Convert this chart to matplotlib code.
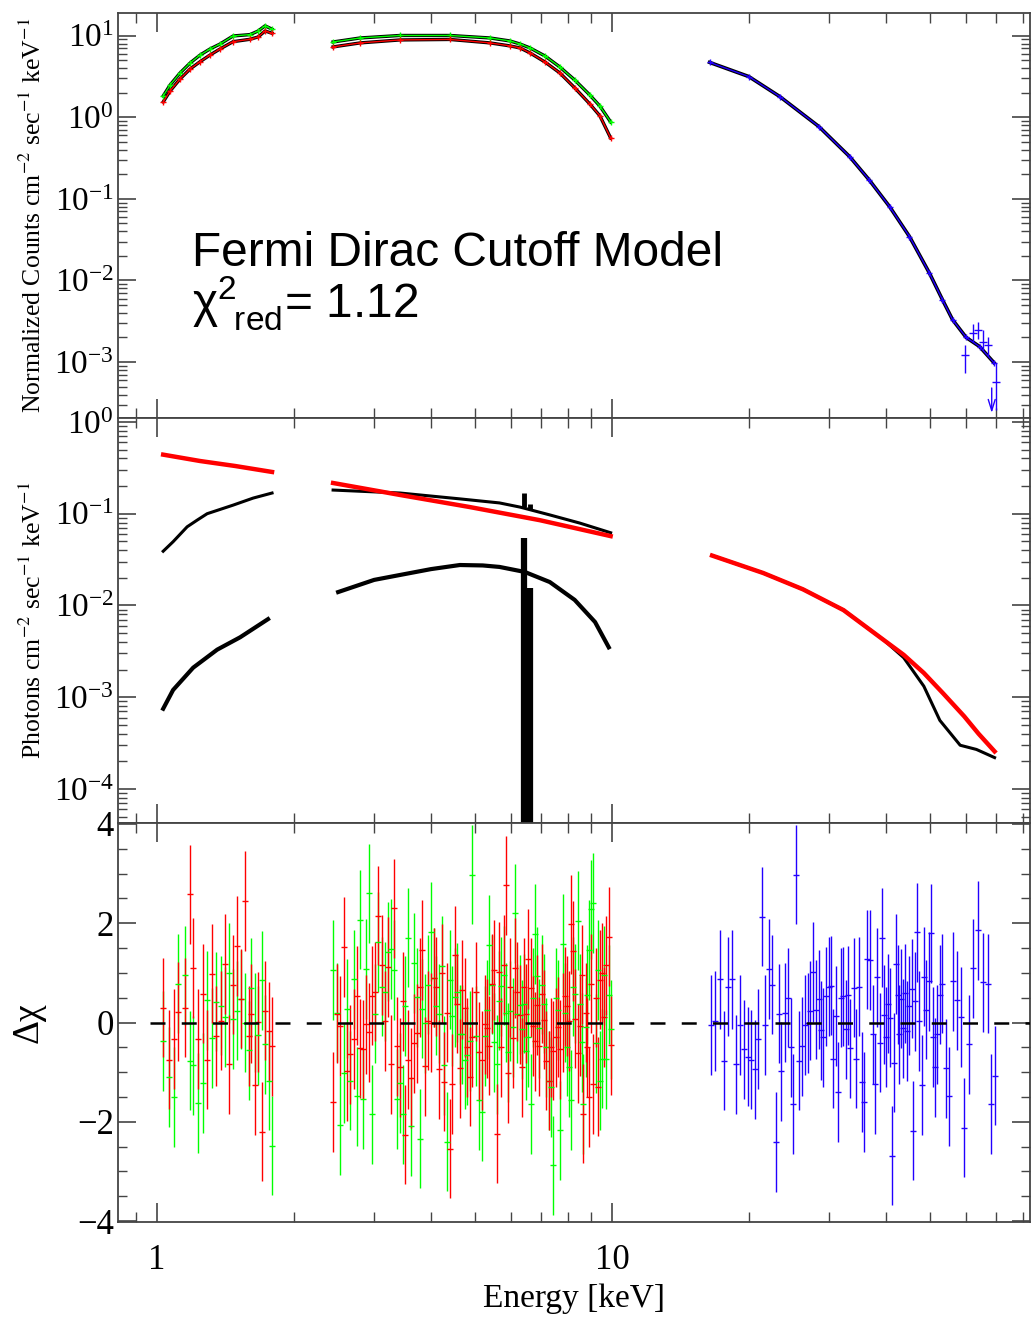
import numpy as np
import matplotlib.pyplot as plt
from matplotlib.ticker import LogLocator, NullFormatter, MultipleLocator, FixedLocator, FixedFormatter

plt.rcParams['font.family'] = ['Liberation Serif', 'DejaVu Serif']
plt.rcParams['mathtext.fontset'] = 'stix'

RED = '#ff0000'
GREEN = '#00ff00'
BLUE = '#2200ff'

# ------------------------------------------------------------------
# Top panel: normalized counts (data + folded model)
# ------------------------------------------------------------------
cts1_e = [1.031, 1.068, 1.123, 1.182, 1.243, 1.307, 1.375, 1.469, 1.601, 1.667, 1.727, 1.789]
cts1_green = [1.82, 2.49, 3.49, 4.63, 5.79, 6.87, 7.90, 9.91, 10.3, 11.4, 13.2, 12.0]
cts1_red = [1.54, 2.10, 2.95, 3.91, 4.80, 5.79, 6.87, 8.44, 9.03, 9.64, 11.4, 10.7]

cts2_e = [2.437, 2.797, 3.420, 4.403, 5.390, 5.966, 6.278, 6.604, 7.122, 7.681, 8.283, 8.934, 9.408, 9.934]
cts2_green = [8.37, 9.37, 10.05, 10.05, 9.37, 8.61, 7.9, 7.07, 5.64, 4.13, 2.86, 1.88, 1.37, 0.875]
cts2_red = [7.28, 8.15, 8.86, 8.98, 8.15, 7.49, 7.07, 6.14, 4.76, 3.49, 2.29, 1.46, 1.04, 0.557]

cts3_e = [16.4, 20.0, 23.4, 28.5, 33.3, 36.8, 40.8, 45.1, 49.9, 53.3, 56.1, 60.1, 64.3, 69.2]
cts3_blue = [4.7, 3.15, 1.79, 0.77, 0.33, 0.17, 0.080, 0.0345, 0.0123, 5.8e-3, 3.3e-3, 2.0e-3, 1.55e-3, 9.8e-4]

# scattered high-energy blue points (value, lower, upper)
hi_e = [59.7, 62.1, 63.7, 65.4, 67.1, 69.8]
hi_val = [1.22e-3, 2.3e-3, 2.47e-3, 1.78e-3, 1.62e-3, 5.7e-4]
hi_lo = [7.4e-4, 1.75e-3, 1.9e-3, 1.4e-3, 1.17e-3, 2.6e-4]
hi_up = [1.63e-3, 2.9e-3, 3.1e-3, 2.5e-3, 2.0e-3, 9.8e-4]
ul_e = 68.4
ul_val = 5.2e-4

# ------------------------------------------------------------------
# Middle panel: unfolded model components
# ------------------------------------------------------------------
pl1_e = [1.031, 1.243, 1.484, 1.789]
pl1 = [0.44, 0.375, 0.331, 0.285]
pl2_e = [2.437, 3.420, 4.875, 6.94, 9.934]
pl2 = [0.216, 0.160, 0.118, 0.085, 0.057]
pl3_e = [16.6, 21.5, 26.3, 32.3, 39.6, 43.8, 48.5, 53.5, 59.5, 64.0, 69.4]
pl3 = [0.035, 0.0226, 0.0150, 8.9e-3, 4.2e-3, 2.9e-3, 1.84e-3, 1.1e-3, 6.2e-4, 4.0e-4, 2.57e-4]

tot1_e = [1.031, 1.084, 1.164, 1.224, 1.288, 1.469, 1.626, 1.789]
tot1 = [0.039, 0.0495, 0.072, 0.085, 0.10, 0.124, 0.148, 0.168]
tot2_e = [2.437, 3.420, 4.634, 5.66, 6.28, 7.30, 8.50, 9.934]
tot2 = [0.181, 0.168, 0.145, 0.131, 0.118, 0.097, 0.079, 0.062]
tot3_e = [16.6, 21.5, 26.3, 32.3, 39.6, 43.8, 48.5, 52.6, 58.3, 63.3, 69.4]
tot3 = [0.035, 0.0226, 0.0150, 8.9e-3, 4.2e-3, 2.7e-3, 1.32e-3, 5.6e-4, 3.0e-4, 2.7e-4, 2.2e-4]

bb1_e = [1.031, 1.084, 1.200, 1.355, 1.522, 1.753]
bb1 = [7.5e-4, 1.2e-3, 2.1e-3, 3.3e-3, 4.5e-3, 7.1e-3]
bb2_e = [2.50, 3.00, 3.42, 4.00, 4.63, 5.20, 5.66, 6.43, 7.30, 8.28, 9.18, 9.84]
bb2 = [0.0140, 0.0190, 0.0215, 0.0249, 0.0276, 0.0273, 0.0263, 0.0232, 0.018, 0.0115, 6.6e-3, 3.5e-3]

line_e = [6.40, 6.60]
line_top = [0.0548, 0.0156]
tot_line_top = [0.169, 0.126]
tot_line_base = [0.118, 0.112]

# ------------------------------------------------------------------
# Bottom panel: residuals (delta chi, errors are 1 sigma by construction)
# ------------------------------------------------------------------
res1_e = [1.03, 1.06, 1.09, 1.11, 1.15, 1.18, 1.20, 1.23, 1.26, 1.29, 1.32, 1.35, 1.38, 1.41,
          1.44, 1.47, 1.50, 1.53, 1.56, 1.59, 1.61, 1.64, 1.67, 1.70, 1.73, 1.76, 1.79]
res1_red = [0.30, -0.75, -0.33, 0.22, 0.30, 2.58, 1.10, -0.33, 0.58, -0.75, 0.98, -0.27, 0.04, 1.18,
            -0.84, 0.76, 1.54, 0.48, 2.45, -0.27, 0.18, -1.26, 0.01, -2.20, 0.24, -0.18, -0.48]
res1_green = [-0.37, -1.10, -1.50, 0.78, 0.95, -0.77, -0.86, -1.62, -1.22, 0.45, -0.31, 0.42, 0.34, 0.11,
              1.00, 0.07, 0.24, 0.47, 0.00, -0.56, 0.70, 0.00, -0.26, 0.85, -0.44, -1.17, -2.48]

res2_e = [2.441, 2.491, 2.525, 2.573, 2.615, 2.659, 2.706, 2.751, 2.789, 2.836,
          2.884, 2.924, 2.964, 3.014, 3.064, 3.117, 3.170, 3.214, 3.267, 3.322,
          3.373, 3.420, 3.467, 3.513, 3.567, 3.616, 3.671, 3.722, 3.778, 3.828,
          3.887, 3.940, 3.994, 4.055, 4.109, 4.171, 4.222, 4.272, 4.338, 4.397,
          4.457, 4.518, 4.571, 4.634, 4.681, 4.746, 4.809, 4.875, 4.932,
          5.024, 5.109, 5.188, 5.251, 5.320, 5.374, 5.448, 5.503, 5.579, 5.643,
          5.709, 5.781, 5.848, 5.917, 5.977, 6.050, 6.120, 6.193, 6.268, 6.331,
          6.406, 6.481, 6.547, 6.626, 6.705, 6.783, 6.852, 6.922, 7.006, 7.088,
          7.172, 7.260, 7.344, 7.430, 7.521, 7.608, 7.698, 7.791, 7.883, 7.951,
          8.045, 8.127, 8.209, 8.306, 8.406, 8.492, 8.592, 8.648, 8.753, 8.824,
          8.901, 8.990, 9.096, 9.208, 9.316, 9.426, 9.521, 9.618, 9.716, 9.834, 9.934]
res2_red = [-1.60, 0.18, -0.07, 1.52, -0.98, -0.64, -0.33, 0.54, -0.52, -0.54,
            -0.04, -0.20, 0.54, 0.62, 2.15, 1.16, 0.03, 1.12, -0.84, 2.30,
            -0.48, -0.90, 0.43, -2.26, -0.75, -1.12, -0.42, -0.22, 0.71, 1.46,
            -0.88, 0.04, 0.00, 0.90, 0.72, -0.94, 0.99, -1.19, 0.20, -2.54,
            -1.24, 1.35, 0.38, -0.92, 0.66, 0.30, -0.50, -1.09, -0.29,
            0.62, -0.59, -0.76, -0.04, -0.12, -0.47, 0.78, 1.06, -2.24, 1.02,
            -0.50, 1.16, 2.76, -1.02, 0.71, -0.32, 1.10, 0.62, 0.16, -0.90,
            0.71, 0.18, 1.28, 0.70, -0.07, -0.38, 0.35, -0.48, 0.58, 0.06,
            -0.77, -1.17, -0.50, -0.57, -0.30, -0.09, -0.54, 0.00, 0.53, 0.33,
            0.03, 1.98, 1.44, 0.08, -0.62, -0.07, 0.96, -1.84, 0.20, -0.50,
            -1.50, 0.78, -1.24, 0.50, -1.29, 0.86, 1.00, 0.11, 1.15, 1.73, -0.46]
res2_green = [1.06, 0.20, -2.07, -1.02, 0.28, -1.17, 0.87, -1.49, 2.07, -1.54,
              1.08, 2.60, -1.85, 0.18, 1.62, 0.72, 0.62, 1.43, 1.48, 1.06,
              -1.54, -1.22, -1.85, 0.33, 1.71, -2.09, 1.20, 0.51, -2.34, 0.28,
              -0.02, 0.76, 1.83, 0.90, 0.34, 0.18, 1.14, -0.86, -2.40, 0.86,
              0.13, 0.51, 0.61, -0.24, -0.24, -0.75, -0.66, -0.37, 2.98,
              -0.27, -1.56, -1.80, -0.27, 0.26, 1.56, 0.76, -0.40, -0.84, 0.44,
              0.73, 0.95, 0.20, -0.60, 0.23, -0.10, 2.20, 0.18, 0.36, -0.14,
              0.38, -0.57, -0.30, -1.64, 0.50, 1.78, 0.93, -0.12, 0.76, 0.38,
              -0.50, -1.17, -1.30, -2.88, 0.50, 0.25, -2.17, 1.58, 0.20, -0.49,
              -0.90, -1.56, 0.72, 0.58, 2.05, 0.38, -0.40, -1.64, -0.10, 0.56,
              1.46, 2.28, 2.41, -0.42, 1.06, -1.17, -0.73, 0.95, -0.74, 0.56, -0.14]

res3_e = [16.51, 16.87, 17.25, 17.63, 17.99, 18.35, 18.76, 19.14, 19.48, 19.87,
          20.21, 20.62, 20.97, 21.33, 21.73, 22.13, 22.47, 22.90, 23.25, 23.56,
          24.00, 24.33, 24.70, 25.07, 25.42, 25.80, 26.19, 26.56, 26.92, 27.28,
          27.70, 28.12, 28.50, 28.75, 29.13, 29.53, 29.94, 30.25, 30.64, 31.02,
          31.43, 31.86, 32.24, 32.63, 33.02,
          33.36, 33.98, 34.43, 34.96, 35.39, 35.80, 36.30, 36.96, 37.53, 37.84,
          38.29, 38.81, 39.21, 39.67, 40.15, 40.48, 40.97, 41.18, 41.60, 42.09,
          42.45, 42.80, 43.17, 43.54, 44.06, 44.50, 45.02, 45.57, 46.03, 46.34,
          46.81, 47.29, 47.94, 48.58, 49.16, 49.74, 50.25, 50.84, 51.28, 51.88,
          52.51, 53.31, 54.13, 55.05, 56.09, 57.24, 58.48, 59.47, 60.91, 62.26,
          63.85, 65.39, 66.97, 68.21, 69.70]
res3_blue = [-0.05, 0.03, 0.87, -0.77, 0.72, 0.87, -0.84, -0.05, -0.54, -0.69,
             -0.75, -0.94, -0.33, 2.13, -0.05, 1.08, 0.76, -2.41, 0.18, -0.98,
             0.20, 0.50, -0.50, -1.64, 2.98, -0.77, -0.48, -0.05, -0.01, 0.24,
             1.02, 0.26, 0.47, -0.16, -0.30, 0.53, 0.72, 0.74, -0.73, 0.13,
             -1.40, 0.50, 0.53, -0.14, 0.55,
             -0.52, 0.70, -0.73, 0.72, -1.20, -1.60, 1.27, 1.26, -0.24, -1.24,
             0.91, -0.41, 1.71, 0.16, -0.29, 0.38, 0.10, -2.68, -0.81, 1.18,
             0.56, -0.24, 0.48, -0.12, 0.59, -0.17, 0.34, 0.68, -2.18, 0.43,
             1.82, 0.03, -1.26, 0.92, 0.26, 0.83, 1.80, -0.29, -0.90, -0.24,
             0.56, 0.78, -0.92, -1.49, 0.83, 0.45, 0.11, -2.12, -0.44, 1.09,
             1.86, 0.81, 0.78, -1.64, -1.07]

# ------------------------------------------------------------------
fig = plt.figure(figsize=(10.32, 13.22), dpi=100)
L, W = 0.1143, 0.8837
ax1 = fig.add_axes([L, 0.6838, W, 0.3064])
ax2 = fig.add_axes([L, 0.3775, W, 0.3063])
ax3 = fig.add_axes([L, 0.0756, W, 0.3019])

AXC = '#444444'
for ax in (ax1, ax2, ax3):
    ax.set_xscale('log')
    ax.set_xlim(0.82, 83)
    ax.xaxis.set_major_locator(FixedLocator([1, 10]))
    ax.xaxis.set_major_formatter(FixedFormatter(['1', '10']))
    ax.xaxis.set_minor_locator(LogLocator(base=10, subs=np.arange(2, 10), numticks=20))
    ax.xaxis.set_minor_formatter(NullFormatter())
    ax.tick_params(which='both', direction='in', top=True, right=True, color=AXC, labelsize=25)
    ax.tick_params(axis='x', which='major', length=14, width=1.2, pad=16)
    ax.tick_params(axis='x', which='minor', length=7, width=1.0)
    ax.tick_params(axis='y', which='major', length=13, width=1.2, pad=3)
    ax.tick_params(axis='y', which='minor', length=6.5, width=1.0)
    for s in ax.spines.values():
        s.set_color(AXC)
        s.set_linewidth(1.3)

for ax in (ax1, ax2):
    ax.set_yscale('log')
    ax.yaxis.set_major_locator(LogLocator(base=10, numticks=20))
    ax.yaxis.set_minor_locator(LogLocator(base=10, subs=np.arange(2, 10), numticks=20))
    ax.yaxis.set_minor_formatter(NullFormatter())
    ax.tick_params(axis='x', labelbottom=False)
    ax.tick_params(axis='y', which='major', labelsize=24)

# ---- top panel ----
ax1.set_ylim(2.06e-4, 18.97)
for e, g, r in ((cts1_e, cts1_green, cts1_red), (cts2_e, cts2_green, cts2_red)):
    ax1.plot(e, g, color='k', lw=2.4, zorder=2)
    ax1.plot(e, r, color='k', lw=2.4, zorder=2)
    ax1.plot(e, g, color=GREEN, lw=1.0, marker='+', ms=5, mew=1, zorder=3)
    ax1.plot(e, r, color=RED, lw=1.0, marker='+', ms=5, mew=1, zorder=3)
ax1.plot(cts3_e, cts3_blue, color='k', lw=2.6, zorder=2)
ax1.plot(cts3_e, cts3_blue, color=BLUE, lw=1.0, marker='+', ms=5, mew=1, zorder=3)
hv = np.array(hi_val)
ax1.errorbar(hi_e, hv, yerr=[hv - np.array(hi_lo), np.array(hi_up) - hv], fmt='_', ms=6,
             color=BLUE, elinewidth=1, mew=1, zorder=3)
ax1.annotate('', xy=(ul_e, 2.2e-4), xytext=(ul_e, ul_val),
             arrowprops=dict(arrowstyle='->,head_length=0.8,head_width=0.25', color=BLUE, lw=1))

ax1.text(0.081, 0.375, "Fermi Dirac Cutoff Model", transform=ax1.transAxes,
         fontsize=34.5, family='Liberation Sans', va='baseline')
ax1.text(0.081, 0.247, r"χ$^{\mathdefault{2}}_{\,\,\,\,\mathdefault{red}}$= 1.12", transform=ax1.transAxes,
         fontsize=34.5, family='Liberation Sans', va='baseline')
ax1.set_ylabel(r"Normalized Counts cm$^{-2}$ sec$^{-1}$ keV$^{-1}$", fontsize=18.5)

# ---- middle panel ----
ax2.set_ylim(4.27e-5, 1.103)
for e, v in ((tot1_e, tot1), (tot2_e, tot2), (tot3_e, tot3)):
    ax2.plot(e, v, color='k', lw=2.2, zorder=2)
for e, v in ((bb1_e, bb1), (bb2_e, bb2)):
    ax2.plot(e, v, color='k', lw=3.0, zorder=2)
for e, v in ((pl1_e, pl1), (pl2_e, pl2), (pl3_e, pl3)):
    ax2.plot(e, v, color=RED, lw=3.2, zorder=3)
ax2.vlines(line_e, 1e-6, line_top, color='k', lw=4.5, zorder=4)
ax2.vlines(line_e, tot_line_base, tot_line_top, color='k', lw=3.5, zorder=4)
ax2.set_ylabel(r"Photons cm$^{-2}$ sec$^{-1}$ keV$^{-1}$", fontsize=18.5)

# ---- bottom panel ----
ax3.set_ylim(-4.02, 4.02)
ax3.yaxis.set_major_locator(MultipleLocator(2))
ax3.yaxis.set_minor_locator(MultipleLocator(0.5))
eb = dict(yerr=1, fmt='_', ms=5, mew=1.0, elinewidth=1.0, capsize=0)
ax3.errorbar(res1_e, res1_green, color=GREEN, **eb)
ax3.errorbar(res1_e, res1_red, color=RED, **eb)
ax3.errorbar(res2_e, res2_green, color=GREEN, **eb)
ax3.errorbar(res2_e, res2_red, color=RED, **eb)
ax3.errorbar(res3_e, res3_blue, color=BLUE, **eb)
ax3.axhline(0, xmin=0.035, color='k', lw=1.8, ls=(0, (6, 6.5)), zorder=5)
ax3.set_ylabel("Δχ", fontsize=27)
ax3.set_xlabel("Energy [keV]", fontsize=24)

for ax in (ax1, ax2, ax3):
    ax.yaxis.set_label_coords(-0.079, 0.5)
ax3.xaxis.set_label_coords(0.5, -0.155)

fig.savefig('out.png', dpi=100)
